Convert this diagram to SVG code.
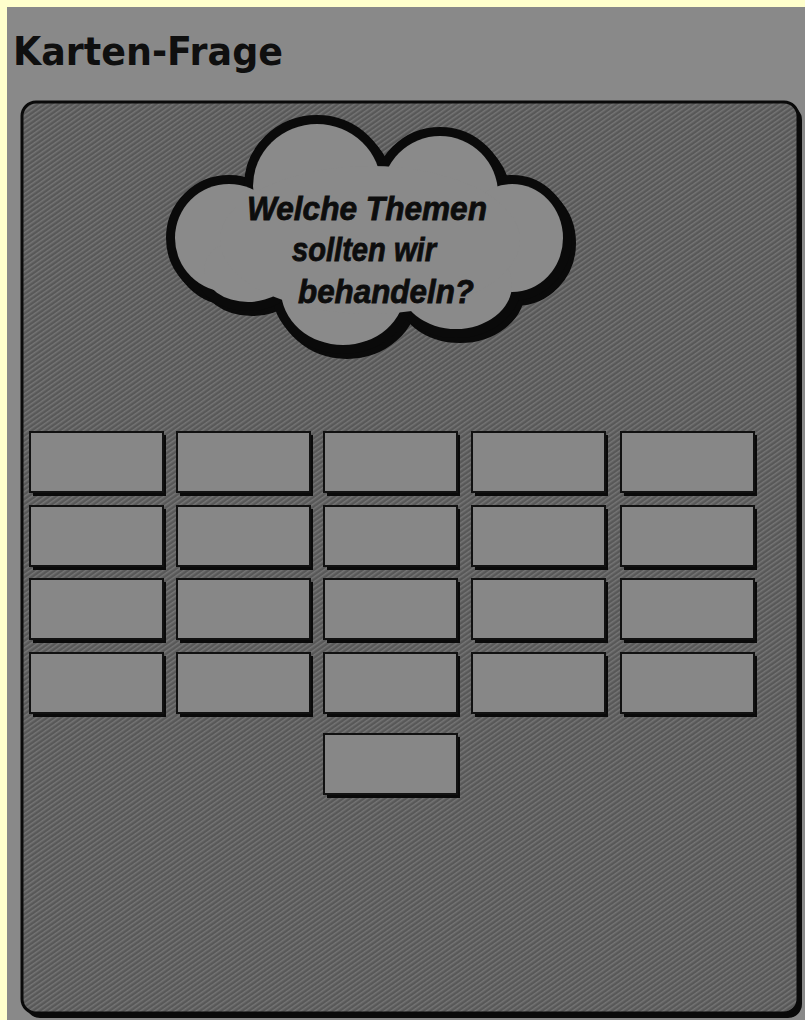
<svg xmlns="http://www.w3.org/2000/svg" width="805" height="1020" viewBox="0 0 805 1020">
<defs>
<pattern id="hatch" width="4" height="4" patternUnits="userSpaceOnUse" patternTransform="rotate(-35)">
<rect width="4" height="4" fill="#585858"/>
<rect width="4" height="1.5" fill="#757575"/>
</pattern>
<style>
.card{fill:#878787;stroke:#111;stroke-width:2}
.shadow{fill:#0a0a0a}
.ct{font-family:"Liberation Sans",Arial,sans-serif;font-weight:bold;font-style:italic;font-size:33px;fill:#0d0d0d;stroke:#0d0d0d;stroke-width:0.8;text-anchor:middle}
</style>
</defs>
<rect x="0" y="0" width="805" height="1020" fill="#ffffcc"/>
<rect x="7" y="7" width="798" height="1013" fill="#898989"/>
<text x="13" y="65" font-family="DejaVu Sans,Verdana,sans-serif" font-weight="bold" font-size="39" fill="#0f0f0f" textLength="270" lengthAdjust="spacingAndGlyphs">Karten-Frage</text>
<g id="panel">
<rect x="26" y="106" width="776" height="912" rx="14" class="shadow"/>
<rect x="22" y="102" width="776" height="911" rx="14" fill="url(#hatch)" stroke="#0a0a0a" stroke-width="3"/>
</g>
<g id="cloud">
<g transform="translate(4,5)" fill="#0a0a0a" stroke="#0a0a0a" stroke-width="18">
<ellipse cx="229" cy="238" rx="54" ry="54"/>
<ellipse cx="317" cy="186" rx="64" ry="62"/>
<ellipse cx="440" cy="194" rx="58" ry="58"/>
<ellipse cx="512" cy="238" rx="51" ry="54"/>
<ellipse cx="456" cy="285" rx="56" ry="44"/>
<ellipse cx="343" cy="290" rx="62" ry="55"/>
<ellipse cx="248" cy="270" rx="44" ry="32"/>
</g>
<g fill="#0a0a0a" stroke="#0a0a0a" stroke-width="18">
<ellipse cx="229" cy="238" rx="54" ry="54"/>
<ellipse cx="317" cy="186" rx="64" ry="62"/>
<ellipse cx="440" cy="194" rx="58" ry="58"/>
<ellipse cx="512" cy="238" rx="51" ry="54"/>
<ellipse cx="456" cy="285" rx="56" ry="44"/>
<ellipse cx="343" cy="290" rx="62" ry="55"/>
<ellipse cx="248" cy="270" rx="44" ry="32"/>
</g>
<g fill="#8a8a8a">
<ellipse cx="229" cy="238" rx="54" ry="54"/>
<ellipse cx="317" cy="186" rx="64" ry="62"/>
<ellipse cx="440" cy="194" rx="58" ry="58"/>
<ellipse cx="512" cy="238" rx="51" ry="54"/>
<ellipse cx="456" cy="285" rx="56" ry="44"/>
<ellipse cx="343" cy="290" rx="62" ry="55"/>
<ellipse cx="248" cy="270" rx="44" ry="32"/>
<ellipse cx="370" cy="240" rx="150" ry="74"/>
</g>
<text class="ct" x="367" y="220" textLength="240" lengthAdjust="spacingAndGlyphs">Welche Themen</text>
<text class="ct" x="364" y="261" textLength="144" lengthAdjust="spacingAndGlyphs">sollten wir</text>
<text class="ct" x="386" y="303" textLength="176" lengthAdjust="spacingAndGlyphs">behandeln?</text>
</g>
<g id="cards">
<g id="card-1-1"><rect x="33" y="435" width="133" height="61" class="shadow"/><rect x="30" y="432" width="133" height="60" class="card"/></g>
<g id="card-1-2"><rect x="180" y="435" width="133" height="61" class="shadow"/><rect x="177" y="432" width="133" height="60" class="card"/></g>
<g id="card-1-3"><rect x="327" y="435" width="133" height="61" class="shadow"/><rect x="324" y="432" width="133" height="60" class="card"/></g>
<g id="card-1-4"><rect x="475" y="435" width="133" height="61" class="shadow"/><rect x="472" y="432" width="133" height="60" class="card"/></g>
<g id="card-1-5"><rect x="624" y="435" width="133" height="61" class="shadow"/><rect x="621" y="432" width="133" height="60" class="card"/></g>
<g id="card-2-1"><rect x="33" y="509" width="133" height="61" class="shadow"/><rect x="30" y="506" width="133" height="60" class="card"/></g>
<g id="card-2-2"><rect x="180" y="509" width="133" height="61" class="shadow"/><rect x="177" y="506" width="133" height="60" class="card"/></g>
<g id="card-2-3"><rect x="327" y="509" width="133" height="61" class="shadow"/><rect x="324" y="506" width="133" height="60" class="card"/></g>
<g id="card-2-4"><rect x="475" y="509" width="133" height="61" class="shadow"/><rect x="472" y="506" width="133" height="60" class="card"/></g>
<g id="card-2-5"><rect x="624" y="509" width="133" height="61" class="shadow"/><rect x="621" y="506" width="133" height="60" class="card"/></g>
<g id="card-3-1"><rect x="33" y="582" width="133" height="61" class="shadow"/><rect x="30" y="579" width="133" height="60" class="card"/></g>
<g id="card-3-2"><rect x="180" y="582" width="133" height="61" class="shadow"/><rect x="177" y="579" width="133" height="60" class="card"/></g>
<g id="card-3-3"><rect x="327" y="582" width="133" height="61" class="shadow"/><rect x="324" y="579" width="133" height="60" class="card"/></g>
<g id="card-3-4"><rect x="475" y="582" width="133" height="61" class="shadow"/><rect x="472" y="579" width="133" height="60" class="card"/></g>
<g id="card-3-5"><rect x="624" y="582" width="133" height="61" class="shadow"/><rect x="621" y="579" width="133" height="60" class="card"/></g>
<g id="card-4-1"><rect x="33" y="656" width="133" height="61" class="shadow"/><rect x="30" y="653" width="133" height="60" class="card"/></g>
<g id="card-4-2"><rect x="180" y="656" width="133" height="61" class="shadow"/><rect x="177" y="653" width="133" height="60" class="card"/></g>
<g id="card-4-3"><rect x="327" y="656" width="133" height="61" class="shadow"/><rect x="324" y="653" width="133" height="60" class="card"/></g>
<g id="card-4-4"><rect x="475" y="656" width="133" height="61" class="shadow"/><rect x="472" y="653" width="133" height="60" class="card"/></g>
<g id="card-4-5"><rect x="624" y="656" width="133" height="61" class="shadow"/><rect x="621" y="653" width="133" height="60" class="card"/></g>
<g id="card-5-3"><rect x="327" y="737" width="133" height="61" class="shadow"/><rect x="324" y="734" width="133" height="60" class="card"/></g>
</g>
<g id="connectors"/>
</svg>
